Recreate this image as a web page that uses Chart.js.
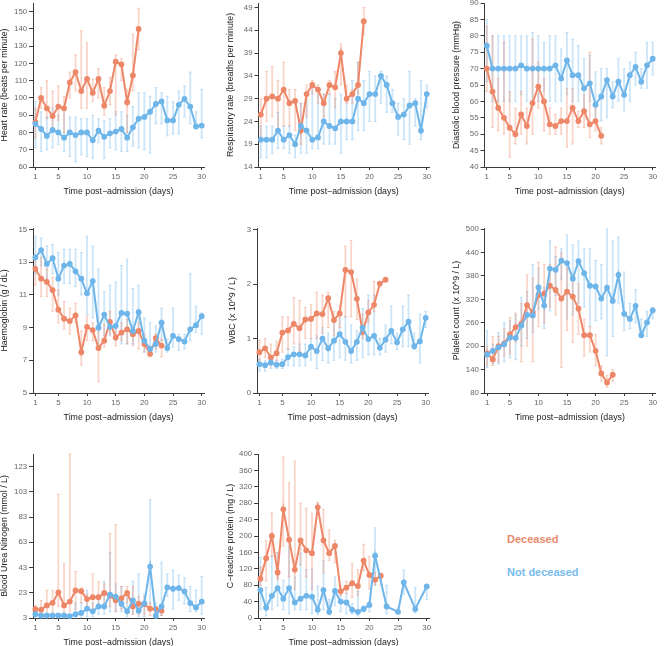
<!DOCTYPE html>
<html lang="en">
<head>
    <meta charset="UTF-8">
    <title>Clinical trajectories by outcome</title>
    <script src="https://cdn.jsdelivr.net/npm/chart.js@4.4.1/dist/chart.umd.min.js"></script>
    <style>
        body {
            margin: 0;
            width: 667px;
            height: 646px;
            position: relative;
            overflow: hidden;
            background: #fff;
            font-family: "Liberation Sans", Arial, sans-serif;
        }

        canvas {
            position: absolute;
        }

        .key {
            position: absolute;
            left: 507px;
            font-size: 11px;
            font-weight: bold;
            line-height: 13px;
        }
    </style>
</head>

<body>
    <div class="key" style="top:533px; color:#E98A6C;">Deceased</div>
    <div class="key" style="top:566px; color:#78BBEB;">Not deceased</div>
    <script>
        // ---- data ----
        const days = [1, 2, 3, 4, 5, 6, 7, 8, 9, 10, 11, 12, 13, 14, 15, 16, 17, 18, 19, 20, 21, 22, 23, 24, 25, 26, 27, 28, 29, 30];
        const xTicks = [1, 5, 10, 15, 20, 25, 30];

        // heart rate
        const hrTicks = [60, 70, 80, 90, 100, 110, 120, 130, 140, 150];
        const hrDec = [86, 100, 94, 89.5, 95, 94, 109, 115, 104, 111, 103, 111, 95.5, 104, 121, 119.5, 97.5, 113, 140];
        const hrDecLo = [77, 94, 88, 82, 87, 80, 100, 104, 94, 94, 98, 100, 90, 96, 90, 110, 80, 104, 128];
        const hrDecHi = [94, 106, 110, 104, 107, 101, 115, 125, 139, 132, 111, 117, 106, 112, 125, 123, 105, 137, 152];
        const hrAlive = [85, 82, 78, 81.5, 80, 77, 80, 78.5, 80, 80, 75.5, 81, 77.5, 79.5, 80.5, 82, 77, 83, 88, 89, 92, 96.5, 98, 87, 87, 96, 99.5, 95, 83.5, 84];
        const hrAliveLo = [71, 69, 70, 71, 73, 69, 66, 63, 67, 66, 65, 74, 65, 71, 70, 69, 69, 72, 71, 70, 68, 85, 85, 78, 79, 79, 89, 85, 82, 77];
        const hrAliveHi = [98, 92, 89, 94, 90, 95, 89, 89, 88, 88, 90, 88, 87, 88, 92, 92, 90, 95, 103, 103, 101, 106, 103, 101, 98, 104, 107, 115, 92, 105];

        // respiratory rate
        const rrTicks = [14, 19, 24, 29, 34, 39, 44, 49];
        const rrDec = [25.5, 29, 29.5, 29, 31, 28, 28.5, 22, 30, 32, 31, 28, 32, 31.5, 39, 29, 30, 32, 46];
        const rrDecLo = [20, 24, 25, 22, 23, 23, 22, 19, 25, 30, 28, 25, 30, 27, 32, 28, 28, 30, 43];
        const rrDecHi = [29, 35, 36, 33, 37, 31, 31, 28, 32, 33, 32, 30, 33, 35, 41, 32, 31, 37, 49];
        const rrAlive = [20, 20, 20, 22, 20, 21, 19, 23, 22, 20, 20.5, 24, 23, 22.5, 24, 24, 24, 29, 28, 30, 30, 34, 32, 28, 25, 25.5, 27.5, 28, 22, 30];
        const rrAliveLo = [16, 16, 17, 18, 18, 17, 16, 17, 17, 18, 18, 19, 19, 19, 17, 20, 20, 22, 22, 24, 24, 28, 26, 26, 21, 20, 19, 23, 20, 27];
        const rrAliveHi = [23, 23, 23, 26, 23, 23, 21, 28, 29, 32, 30, 30, 30, 29, 30, 29, 33, 37, 33, 35, 34, 35, 34, 31, 28, 29, 35, 29, 33, 32];

        // diastolic blood pressure
        const dbpTicks = [40, 45, 50, 55, 60, 65, 70, 75, 80, 85, 90];
        const dbpDec = [70, 63, 58, 55, 52, 50, 56, 52.5, 59.5, 64.5, 60, 53, 52.5, 54, 54, 58, 54, 57, 53, 54, 49.5];
        const dbpDecLo = [63, 52, 51, 50, 43, 47, 50, 47, 50, 58, 51, 50, 50, 50, 46, 47, 52, 52, 49, 51, 47];
        const dbpDecHi = [83, 80, 67, 78, 63, 58, 63, 58, 79, 72, 67, 58, 56, 58, 64, 64, 57, 62, 75, 58, 52];
        const dbpAlive = [77, 70, 70, 70, 70, 70, 71, 70, 70, 70, 70, 70, 71, 67, 72.5, 68, 68, 64, 65.5, 59, 61.5, 66.5, 61.5, 66, 62, 68, 70.5, 66, 71, 73];
        const dbpAliveLo = [66, 60, 60, 60, 60, 60, 62, 60, 60, 60, 63, 60, 60, 60, 62, 60, 60, 58, 60, 54, 54, 55, 58, 60, 57, 60, 65, 64, 64, 68];
        const dbpAliveHi = [85, 80, 80, 80, 80, 80, 80, 80, 81, 80, 78, 80, 80, 76, 81, 79, 77, 73, 74, 69, 70, 70, 66, 73, 70, 72, 75, 70, 78, 78];

        // haemoglobin
        const hbTicks = [5, 7, 9, 11, 13, 15];
        const hbDec = [12.6, 12, 11.8, 11.3, 10.1, 9.55, 9.4, 9.75, 7.5, 9.05, 8.85, 7.75, 8.2, 9.35, 8.4, 8.7, 8.9, 8.6, 8.8, 8, 7.4, 8.35, 7.9];
        const hbDecLo = [11.6, 10.9, 10.9, 10, 9.3, 8.9, 8.6, 9.3, 6.7, 8.2, 8.2, 5.7, 7.8, 8.6, 7.9, 8.2, 8, 7.9, 7.7, 7.5, 7.2, 7.7, 7.2];
        const hbDecHi = [13.3, 13.3, 12.6, 12.1, 11.3, 10.6, 10.2, 10.5, 8.8, 9.7, 9.3, 9, 9.2, 10, 9.2, 9.3, 9.5, 9, 9.3, 8.6, 7.8, 8.6, 8.3];
        const hbAlive = [13.3, 13.75, 12.9, 13.25, 12, 12.8, 12.9, 12.45, 12, 11.1, 11.85, 9, 9.8, 9.05, 9.1, 9.9, 9.85, 8.8, 9.95, 8.2, 7.7, 8, 9.3, 7.75, 8.5, 8.3, 8.15, 8.9, 9.15, 9.7];
        const hbAliveLo = [12.3, 12.8, 12, 12.3, 11, 11.7, 11.7, 11.5, 11, 9.8, 9.6, 7.8, 8.5, 8.5, 8.2, 8, 8, 8, 8.6, 7.5, 7.3, 7.5, 8.2, 7.5, 7.8, 7.6, 7.7, 8.2, 8.7, 8.6];
        const hbAliveHi = [14.6, 14.5, 14, 14.1, 13.6, 13.8, 13.8, 13.8, 13.6, 14.6, 14, 12.6, 11.2, 11.6, 11.8, 12.8, 13.2, 11.4, 11.6, 9.6, 9.3, 9.1, 10.2, 8.3, 10.2, 8.6, 8.6, 12.3, 10.3, 9.9];

        // white blood cells
        const wbcTicks = [0, 1, 2, 3];
        const wbcDec = [0.75, 0.82, 0.65, 0.73, 1.11, 1.15, 1.27, 1.19, 1.35, 1.36, 1.46, 1.45, 1.74, 1.34, 1.46, 2.26, 2.22, 1.73, 1.12, 1.48, 1.62, 2.01, 2.08];
        const wbcDecLo = [0.6, 0.65, 0.5, 0.6, 0.75, 0.8, 0.9, 0.75, 1, 1, 1, 1.1, 1.2, 1.05, 1.2, 1.4, 1.4, 1.35, 1, 1.3, 1.5, 1.95, 2.05];
        const wbcDecHi = [0.97, 1, 0.9, 0.95, 1.4, 1.4, 1.75, 1.7, 1.57, 1.63, 1.85, 1.8, 1.85, 1.5, 1.6, 2.7, 2.8, 2.1, 1.45, 1.7, 2.05, 2.05, 2.1];
        const wbcAlive = [0.53, 0.51, 0.56, 0.52, 0.53, 0.66, 0.71, 0.71, 0.69, 0.85, 0.77, 1, 0.82, 0.96, 1.08, 0.94, 0.77, 0.94, 1.2, 0.99, 1.05, 0.83, 0.98, 1.14, 0.93, 1.17, 1.31, 0.86, 0.95, 1.38];
        const wbcAliveLo = [0.4, 0.4, 0.45, 0.45, 0.45, 0.5, 0.5, 0.5, 0.5, 0.6, 0.45, 0.6, 0.55, 0.6, 0.65, 0.6, 0.55, 0.6, 0.65, 0.7, 0.7, 0.7, 0.75, 0.9, 0.8, 0.85, 0.85, 0.8, 0.55, 1.2];
        const wbcAliveHi = [0.62, 0.6, 0.65, 0.6, 0.62, 0.82, 0.85, 0.9, 0.9, 1, 1.05, 1.2, 1.1, 1.3, 1.5, 1.4, 1.25, 1.15, 1.55, 1.8, 1.8, 1, 1.25, 1.6, 1.1, 1.6, 1.8, 1.1, 1.45, 1.5];

        // platelets
        const pltTicks = [80, 140, 200, 260, 320, 380, 440, 500];
        const pltDec = [182, 166, 200, 207, 230, 249, 258, 305, 287, 331, 335, 355, 344, 322, 340, 327, 296, 228, 228, 188, 130, 107, 127];
        const pltDecLo = [150, 150, 160, 175, 180, 210, 160, 200, 160, 250, 260, 300, 280, 145, 240, 210, 230, 175, 185, 150, 110, 95, 110];
        const pltDecHi = [200, 225, 225, 245, 273, 285, 310, 383, 375, 415, 410, 410, 455, 440, 400, 380, 360, 270, 250, 230, 150, 125, 140];
        const pltAlive = [179, 188, 197, 205, 222, 221, 253, 280, 279, 351, 304, 399, 396, 419, 413, 373, 418, 387, 355, 353, 322, 350, 316, 383, 283, 270, 303, 228, 261, 292];
        const pltAliveLo = [145, 155, 155, 160, 170, 165, 200, 220, 235, 295, 245, 290, 330, 370, 270, 280, 310, 300, 250, 265, 270, 175, 225, 310, 240, 245, 260, 225, 225, 270];
        const pltAliveHi = [240, 205, 235, 260, 265, 280, 325, 340, 410, 400, 350, 470, 430, 450, 485, 460, 470, 450, 450, 420, 410, 500, 470, 480, 390, 310, 345, 270, 290, 300];

        // blood urea nitrogen
        const bunTicks = [3, 23, 43, 63, 83, 103, 123];
        const bunDec = [10, 9.6, 13, 15, 23.3, 13, 16, 24.8, 24.3, 18, 19.5, 19.5, 22.8, 20.7, 17, 18.6, 22.8, 12.2, 14.3, 14, 10.4, 10.1, 8.8];
        const bunDecLo = [5, 5, 5, 8, 12, 8, 8, 10, 15, 12, 10, 13, 12, 12, 8, 10, 15, 6, 6, 6, 5, 5, 5];
        const bunDecHi = [13, 17, 25, 25, 101, 46, 133, 40, 27, 22, 38, 32, 30, 70, 77, 28, 28, 28, 20, 20, 15, 12, 10];
        const bunAlive = [6, 5, 5, 5, 5, 5, 4.5, 6, 7, 10.4, 8.3, 12.2, 12.2, 21.6, 20, 14.3, 8.3, 17, 8.8, 14.6, 43.8, 4.8, 12.2, 27.3, 26.2, 26.7, 24, 14.8, 11.4, 16];
        const bunAliveLo = [3, 3, 3, 3, 3, 3, 3, 3, 3, 4, 4, 6, 6, 8, 8, 8, 4, 6, 4, 4, 14, 3, 5, 20, 10, 17, 14, 8, 8, 6];
        const bunAliveHi = [8, 6, 6, 6, 6, 6, 6, 15, 15, 25, 15, 18, 32, 55, 30, 28, 22, 32, 38, 22, 97, 15, 47, 38, 41, 37, 35, 28, 25, 36];

        // C-reactive protein
        const crpTicks = [0, 40, 80, 120, 160, 200, 240, 280, 320, 360, 400];
        const crpDec = [96, 146, 200, 111, 265, 191, 118, 189, 165, 158, 270, 189, 158, 176, 65, 74, 85, 78, 140, 105, 93, 103];
        const crpDecLo = [80, 90, 150, 95, 175, 100, 70, 130, 100, 70, 265, 110, 140, 135, 55, 60, 50, 55, 115, 70, 80, 80];
        const crpDecHi = [125, 188, 257, 160, 393, 330, 383, 280, 268, 255, 280, 265, 215, 190, 80, 90, 132, 118, 180, 150, 112, 108];
        const crpAliveDays = [1, 2, 3, 4, 5, 6, 7, 8, 9, 10, 11, 12, 13, 14, 15, 16, 17, 18, 19, 20, 21, 23, 25, 26, 28, 30];
        const crpAlive = [68, 25, 54, 73, 47, 73, 38, 47, 54, 52, 20, 68, 15, 66, 40, 38, 20, 15, 22, 32, 152, 28, 15, 87, 22, 77];
        const crpAliveLo = [20, 5, 20, 30, 20, 10, 20, 20, 20, 10, 8, 20, 8, 30, 15, 10, 10, 5, 15, 15, 80, 10, 10, 58, 12, 45];
        const crpAliveHi = [148, 75, 152, 160, 92, 175, 100, 158, 118, 120, 78, 140, 45, 100, 60, 60, 35, 65, 30, 40, 220, 80, 25, 117, 75, 80];

        const orange = '#EE8768';
        const blue = '#6EB5EA';
        const orangeBar = 'rgba(238, 135, 104, 0.35)';
        const blueBar = 'rgba(110, 181, 234, 0.35)';

        // draws the vertical range bars behind the lines, using the chart scales
        const errorBars = {
            id: 'errorBars',
            beforeDatasetsDraw(chart) {
                const ctx = chart.ctx;
                const xs = chart.scales.x, ys = chart.scales.y;
                chart.data.datasets.forEach(ds => {
                    ctx.save();
                    ctx.strokeStyle = ds.barColor;
                    ds.data.forEach((p, i) => {
                        const x = xs.getPixelForValue(p.x);
                        const y1 = ys.getPixelForValue(ds.lo[i]);
                        const y2 = ys.getPixelForValue(ds.hi[i]);
                        ctx.lineWidth = 1.8;
                        ctx.beginPath();
                        ctx.moveTo(x, y1);
                        ctx.lineTo(x, y2);
                        ctx.stroke();
                        ctx.lineWidth = 1;
                        ctx.beginPath();
                        ctx.moveTo(x - 1.5, y1);
                        ctx.lineTo(x + 1.5, y1);
                        ctx.moveTo(x - 1.5, y2);
                        ctx.lineTo(x + 1.5, y2);
                        ctx.stroke();
                    });
                    ctx.restore();
                });
            }
        };

        function series(xVals, yVals, lo, hi, color, barColor) {
            return {
                data: yVals.map((v, i) => ({ x: xVals[i], y: v })),
                lo: lo,
                hi: hi,
                barColor: barColor,
                borderColor: color,
                backgroundColor: color,
                borderWidth: 2,
                pointRadius: 2.9,
                pointBorderWidth: 0,
                pointBackgroundColor: color,
                tension: 0,
                clip: false
            };
        }

        // g: y-title centre, plot left/right/top/bottom (page pixels)
        function panel(g, yMin, yMax, yTicks, yTitle, alive, dec) {
            const cL = g.tc - 4.4;
            const cT = g.t - 8;
            const w = Math.round(g.r + 8 - cL);
            const h = Math.round(g.b - cT + 29);
            const cv = document.createElement('canvas');
            cv.width = w;
            cv.height = h;
            cv.style.left = cL + 'px';
            cv.style.top = cT + 'px';
            cv.style.width = w + 'px';
            cv.style.height = h + 'px';
            document.body.appendChild(cv);

            const axisColor = '#3a3a3a';
            const tickFont = { family: '"Liberation Sans", Arial, sans-serif', size: 7.8 };
            const titleFont = { family: '"Liberation Sans", Arial, sans-serif', size: 8.8, lineHeight: 1 };

            new Chart(cv, {
                type: 'line',
                data: { datasets: [alive, dec] },
                options: {
                    responsive: false,
                    animation: false,
                    layout: { padding: { top: 8, right: 8, left: 0, bottom: 0 } },
                    plugins: { legend: { display: false }, tooltip: { enabled: false } },
                    scales: {
                        x: {
                            type: 'linear',
                            min: 0.6,
                            max: 30.4,
                            afterBuildTicks: s => { s.ticks = xTicks.map(v => ({ value: v })); },
                            afterFit: s => { s.height = 29; },
                            grid: { drawOnChartArea: false, tickLength: 3, tickColor: axisColor },
                            border: { color: axisColor, width: 1 },
                            ticks: { font: tickFont, color: '#666', padding: 2, maxRotation: 0, callback: v => v },
                            title: { display: true, text: 'Time post\u2212admission (days)', font: titleFont, color: '#222', padding: 0 }
                        },
                        y: {
                            min: yMin,
                            max: yMax,
                            afterBuildTicks: s => { s.ticks = yTicks.map(v => ({ value: v })); },
                            afterFit: s => { s.width = g.l - cL; },
                            grid: { drawOnChartArea: false, tickLength: 4, tickColor: axisColor },
                            border: { color: axisColor, width: 1 },
                            ticks: { font: tickFont, color: '#666', padding: 2, callback: v => v },
                            title: { display: true, text: yTitle, font: titleFont, color: '#222', padding: 0 }
                        }
                    }
                },
                plugins: [errorBars]
            });
        }

        panel({ tc: 4, l: 32.7, r: 203.3, t: 3, b: 166.7 }, 60, 155, hrTicks, 'Heart rate (beats per minute)',
            series(days, hrAlive, hrAliveLo, hrAliveHi, blue, blueBar),
            series(days, hrDec, hrDecLo, hrDecHi, orange, orangeBar));

        panel({ tc: 230.3, l: 258.4, r: 429, t: 3, b: 166.7 }, 14, 50, rrTicks, 'Respiratory rate (breaths per minute)',
            series(days, rrAlive, rrAliveLo, rrAliveHi, blue, blueBar),
            series(days, rrDec, rrDecLo, rrDecHi, orange, orangeBar));

        panel({ tc: 456.3, l: 484.4, r: 655, t: 2.7, b: 166.7 }, 40, 90, dbpTicks, 'Diastolic blood pressure (mmHg)',
            series(days, dbpAlive, dbpAliveLo, dbpAliveHi, blue, blueBar),
            series(days, dbpDec, dbpDecLo, dbpDecHi, orange, orangeBar));

        panel({ tc: 4, l: 32.7, r: 203.3, t: 227.7, b: 392.3 }, 5, 15.1, hbTicks, 'Haemoglobin (g / dL)',
            series(days, hbAlive, hbAliveLo, hbAliveHi, blue, blueBar),
            series(days, hbDec, hbDecLo, hbDecHi, orange, orangeBar));

        panel({ tc: 232, l: 256.7, r: 428, t: 227.7, b: 392.3 }, 0, 3.03, wbcTicks, 'WBC (x 10^9 / L)',
            series(days, wbcAlive, wbcAliveLo, wbcAliveHi, blue, blueBar),
            series(days, wbcDec, wbcDecLo, wbcDecHi, orange, orangeBar));

        panel({ tc: 456, l: 484.4, r: 655, t: 227.7, b: 392.3 }, 80, 503, pltTicks, 'Platelet count (x 10^9 / L)',
            series(days, pltAlive, pltAliveLo, pltAliveHi, blue, blueBar),
            series(days, pltDec, pltDecLo, pltDecHi, orange, orangeBar));

        panel({ tc: 4, l: 32.7, r: 203.3, t: 454, b: 618.3 }, 3, 133, bunTicks, 'Blood Urea Nitrogen (mmol / L)',
            series(days, bunAlive, bunAliveLo, bunAliveHi, blue, blueBar),
            series(days, bunDec, bunDecLo, bunDecHi, orange, orangeBar));

        panel({ tc: 230.7, l: 258.4, r: 429, t: 454, b: 618.3 }, 0, 400, crpTicks, 'C\u2212reactive protein (mg / L)',
            series(crpAliveDays, crpAlive, crpAliveLo, crpAliveHi, blue, blueBar),
            series(days, crpDec, crpDecLo, crpDecHi, orange, orangeBar));
    </script>
</body>

</html>
